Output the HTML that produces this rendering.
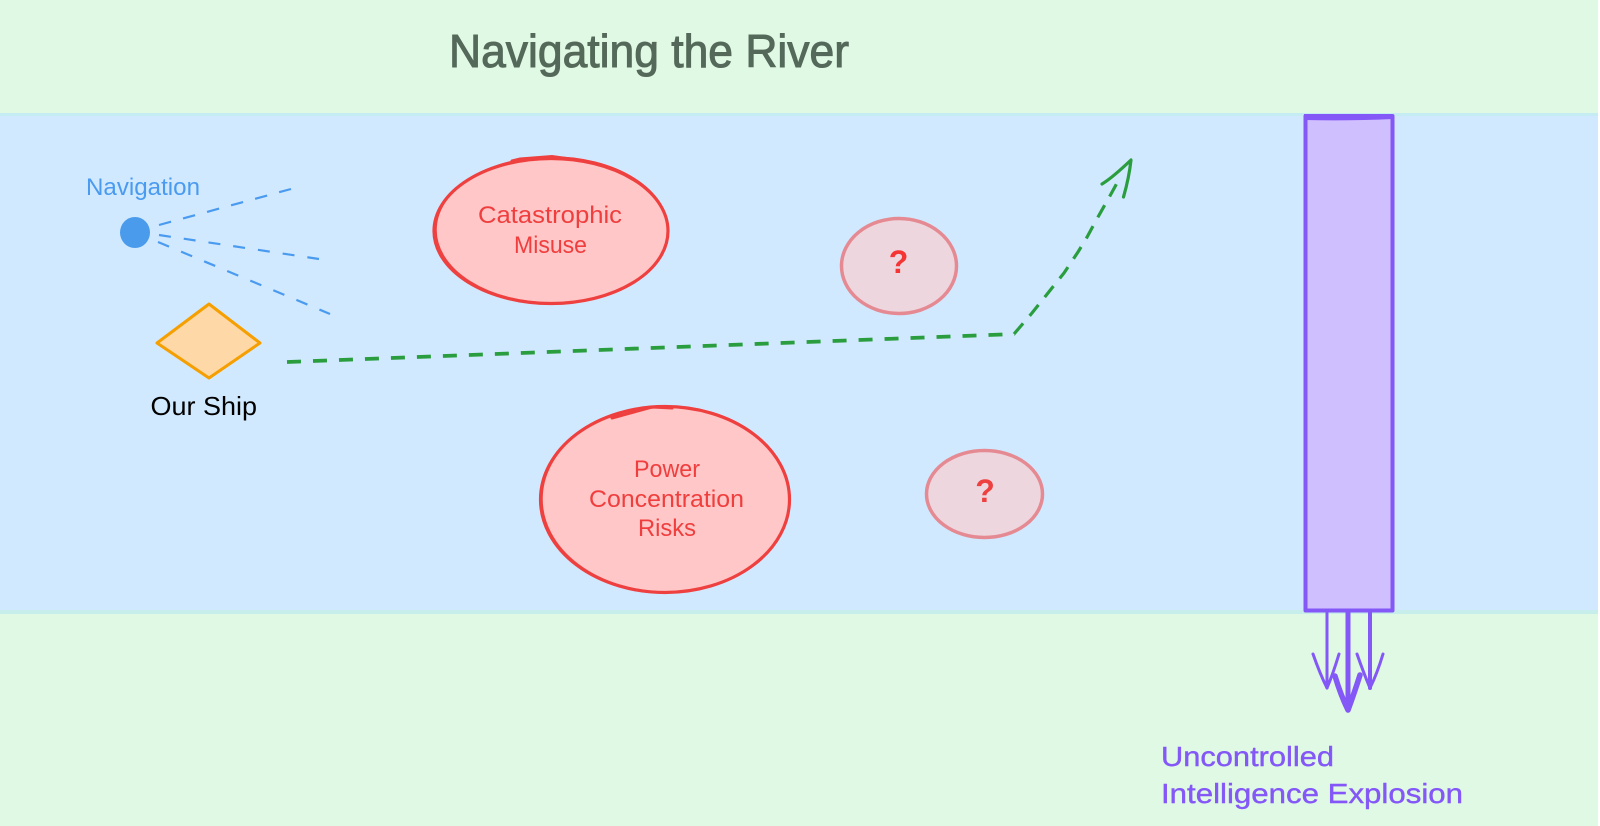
<!DOCTYPE html>
<html lang="en">
<head>
<meta charset="utf-8">
<title>Navigating the River</title>
<style>
html,body{margin:0;padding:0;background:#fff;width:1600px;height:826px;overflow:hidden}
svg{display:block}
text{font-family:"Liberation Sans","DejaVu Sans",sans-serif}
</style>
</head>
<body>
<svg width="1600" height="826" viewBox="0 0 1600 826" xmlns="http://www.w3.org/2000/svg">
  <!-- banks and river -->
  <rect x="0" y="0" width="1598" height="826" fill="#e0f9e4"/>
  <rect x="0" y="113" width="1598" height="499" fill="#d1e9ff"/>
  <rect x="0" y="113" width="1598" height="3" fill="#c5ecf2"/>
  <rect x="0" y="610" width="1598" height="4" fill="#c7eeea"/>

  <!-- title -->
  <text x="449" y="67" font-size="46" fill="#55695a" textLength="400" lengthAdjust="spacingAndGlyphs" stroke="#55695a" stroke-width="1">Navigating the River</text>

  <!-- navigation -->
  <text x="86" y="195" font-size="24" fill="#4a9bef" textLength="114" lengthAdjust="spacingAndGlyphs">Navigation</text>
  <ellipse cx="135" cy="232.500" rx="15" ry="15.500" fill="#4a9bec"/>
  <g fill="none" stroke="#4a9bef" stroke-width="2.200">
    <line x1="159" y1="225" x2="291" y2="189" stroke-dasharray="12.500 12.400"/>
    <line x1="159" y1="235" x2="319" y2="259" stroke-dasharray="12 13"/>
    <line x1="158" y1="242" x2="330" y2="314" stroke-dasharray="12 13"/>
  </g>

  <!-- ship -->
  <polygon points="209,304 260,343 209,378 157,343" fill="#ffd8a8" stroke="#f59f00" stroke-width="3" stroke-linejoin="round"/>
  <text x="150.500" y="415" font-size="26" fill="#000" textLength="106.500" lengthAdjust="spacingAndGlyphs">Our Ship</text>

  <!-- route -->
  <path d="M287 362 L1015 334" fill="none" stroke="#2a9d3e" stroke-width="3.800" stroke-dasharray="14 12"/>
  <path d="M1014 334 L1032 313 L1048 293 L1064 273 L1078 252 L1086 239 L1098 217 L1111 194 L1117 183" fill="none" stroke="#2a9d3e" stroke-width="3.200" stroke-dasharray="14 10" stroke-linejoin="round"/>
  <path d="M1102 184 Q1112 178 1131 160 Q1129 178 1123.500 197" fill="none" stroke="#2a9d3e" stroke-width="3.200" stroke-linecap="round" stroke-linejoin="round"/>

  <!-- catastrophic misuse -->
  <ellipse cx="551" cy="231" rx="117" ry="72.500" fill="#ffc7c7" stroke="#ef4040" stroke-width="3.200"/>
  <ellipse cx="552" cy="230" rx="116" ry="73" fill="none" stroke="#ef4040" stroke-width="1.500"/>
  <path d="M512 161 L520 159 L552 156.500 L570 159" fill="none" stroke="#ef4040" stroke-width="3" stroke-linecap="round"/>
  <text x="478" y="223" font-size="24" fill="#f03e3e" textLength="144" lengthAdjust="spacingAndGlyphs">Catastrophic</text>
  <text x="514" y="253" font-size="24" fill="#f03e3e" textLength="73" lengthAdjust="spacingAndGlyphs">Misuse</text>

  <!-- question one -->
  <ellipse cx="899" cy="266" rx="57.500" ry="47.500" fill="#eed6de" stroke="#e58a92" stroke-width="3.500"/>
  <text x="898.500" y="273" font-size="32" font-weight="bold" fill="#f53434" text-anchor="middle">?</text>

  <!-- power concentration -->
  <ellipse cx="665" cy="499.500" rx="124.500" ry="93" fill="#ffc7c7" stroke="#ef4040" stroke-width="3.200"/>
  <ellipse cx="666" cy="499" rx="124" ry="93" fill="none" stroke="#ef4040" stroke-width="1.500"/>
  <path d="M612 418 L652 407 L672 408" fill="none" stroke="#ef4040" stroke-width="3" stroke-linecap="round"/>
  <text x="634" y="477" font-size="24" fill="#f03e3e" textLength="66" lengthAdjust="spacingAndGlyphs">Power</text>
  <text x="589" y="507" font-size="24" fill="#f03e3e" textLength="155" lengthAdjust="spacingAndGlyphs">Concentration</text>
  <text x="638" y="536" font-size="24" fill="#f03e3e" textLength="58" lengthAdjust="spacingAndGlyphs">Risks</text>

  <!-- question two -->
  <ellipse cx="984.500" cy="494" rx="58" ry="43.500" fill="#eed6de" stroke="#e58a92" stroke-width="3.500"/>
  <text x="985" y="502" font-size="32" font-weight="bold" fill="#ef4040" text-anchor="middle">?</text>

  <!-- barrier -->
  <rect x="1305.500" y="116" width="87" height="494.500" fill="#d0bfff" stroke="#8457f7" stroke-width="4" stroke-linejoin="round"/>
  <path d="M1304 114 L1393 114 L1393 119 Q1350 121 1304 120 Z" fill="#8457f7"/>

  <!-- outflow arrows -->
  <g fill="none" stroke="#8457f7" stroke-linecap="round" stroke-linejoin="round">
    <path d="M1327 612 L1327 688" stroke-width="3"/>
    <path d="M1313 654 Q1320 674 1327 688 Q1333 674 1339 654" stroke-width="3"/>
    <path d="M1370 612 L1370 688" stroke-width="4"/>
    <path d="M1357 654 Q1364 674 1370 688 Q1377 674 1383 654" stroke-width="3"/>
    <path d="M1348 612 L1348 710" stroke-width="5"/>
    <path d="M1335 676 Q1341 696 1348 710 Q1354 694 1360 675" stroke-width="5.500"/>
  </g>
  <text x="1161" y="766" font-size="28" fill="#8457f7" textLength="173" lengthAdjust="spacingAndGlyphs" stroke="#8457f7" stroke-width=".4">Uncontrolled</text>
  <text x="1161" y="803" font-size="28" fill="#8457f7" textLength="302" lengthAdjust="spacingAndGlyphs" stroke="#8457f7" stroke-width=".4">Intelligence Explosion</text>
</svg>
</body>
</html>
